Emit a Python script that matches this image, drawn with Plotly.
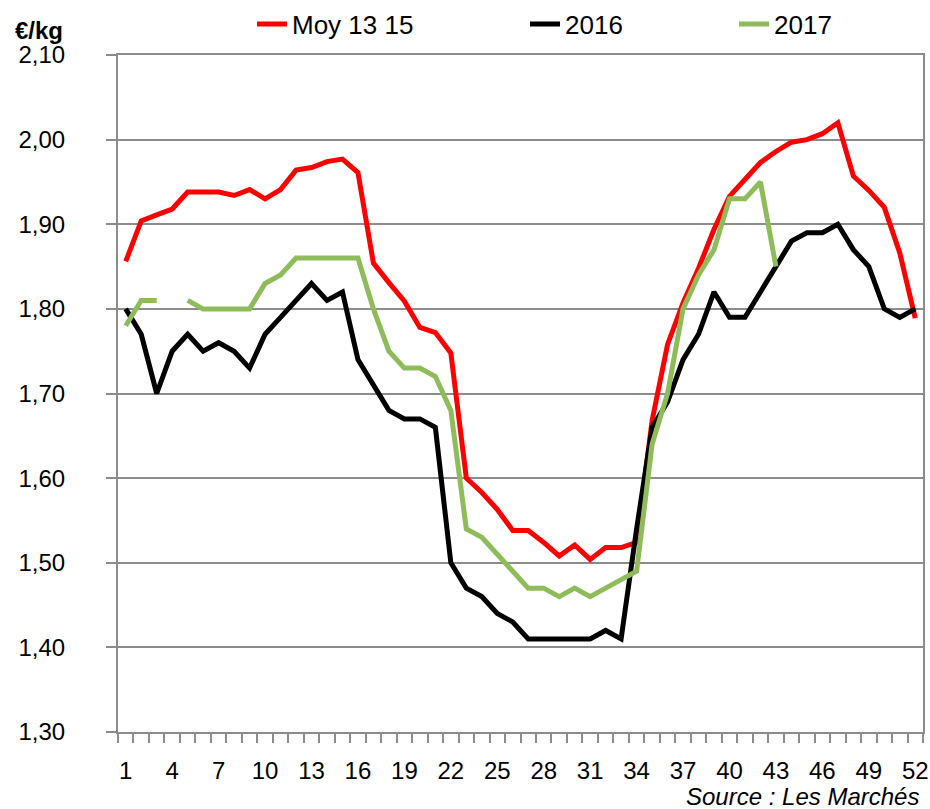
import plotly.graph_objects as go

weeks = list(range(1, 53))
tick_weeks = list(range(1, 53, 3))

moy_13_15 = [1.856, 1.904, 1.911, 1.918, 1.938, 1.938, 1.938, 1.934, 1.941, 1.930,
             1.941, 1.964, 1.967, 1.974, 1.977, 1.961, 1.854, 1.831, 1.809, 1.778,
             1.772, 1.748, 1.600, 1.583, 1.563, 1.538, 1.538, 1.524, 1.508, 1.521,
             1.504, 1.518, 1.518, 1.524, 1.668, 1.758, 1.807, 1.848, 1.894, 1.933,
             1.953, 1.973, 1.986, 1.997, 2.000, 2.007, 2.020, 1.957, 1.940, 1.920,
             1.866, 1.789]

y2016 = [1.80, 1.77, 1.70, 1.75, 1.77, 1.75, 1.76, 1.75, 1.73, 1.77,
         1.79, 1.81, 1.83, 1.81, 1.82, 1.74, 1.71, 1.68, 1.67, 1.67,
         1.66, 1.50, 1.47, 1.46, 1.44, 1.43, 1.41, 1.41, 1.41, 1.41,
         1.41, 1.42, 1.41, 1.54, 1.66, 1.69, 1.74, 1.77, 1.82, 1.79,
         1.79, 1.82, 1.85, 1.88, 1.89, 1.89, 1.90, 1.87, 1.85, 1.80,
         1.79, 1.80]

y2017 = [1.78, 1.81, 1.81, None, 1.81, 1.80, 1.80, 1.80, 1.80, 1.83,
         1.84, 1.86, 1.86, 1.86, 1.86, 1.86, 1.80, 1.75, 1.73, 1.73,
         1.72, 1.68, 1.54, 1.53, 1.51, 1.49, 1.47, 1.47, 1.46, 1.47,
         1.46, 1.47, 1.48, 1.49, 1.64, 1.70, 1.80, 1.84, 1.87, 1.93,
         1.93, 1.95, 1.85, None, None, None, None, None, None, None,
         None, None]

FONT = "Liberation Sans, Arial, sans-serif"
GRID = "#8c8c8c"

fig = go.Figure()
fig.add_trace(go.Scatter(x=weeks, y=moy_13_15, mode="lines", name="Moy 13 15",
                         line=dict(color="#ff0000", width=5), legend="legend"))
fig.add_trace(go.Scatter(x=weeks, y=y2016, mode="lines", name="2016",
                         line=dict(color="#000000", width=5), legend="legend2"))
fig.add_trace(go.Scatter(x=weeks, y=y2017, mode="lines", name="2017",
                         line=dict(color="#8fbc5a", width=5), connectgaps=False,
                         legend="legend3"))

W, H = 930, 809
L, T = 118, 55
R = W - 923
B = H - 732
pw = W - L - R
ph = H - T - B

def px_x(page_x):
    return (page_x - L) / pw

def px_y(page_y):
    return (H - B - page_y) / ph

leg_common = dict(orientation="h", xanchor="left", yanchor="middle",
                  font=dict(family=FONT, size=26, color="#000000"),
                  bgcolor="rgba(0,0,0,0)", borderwidth=0)

fig.update_layout(
    width=W, height=H,
    showlegend=True,
    margin=dict(l=L, r=R, t=T, b=B, autoexpand=False),
    paper_bgcolor="white", plot_bgcolor="white",
    separators=", ",
    font=dict(family=FONT, size=24, color="#000000"),
    legend=dict(x=px_x(252), y=px_y(24), **leg_common),
    legend2=dict(x=px_x(525), y=px_y(24), **leg_common),
    legend3=dict(x=px_x(734), y=px_y(24), **leg_common),
    xaxis=dict(range=[0.5, 52.5], tickmode="array", tickvals=tick_weeks,
               ticktext=[str(v) for v in tick_weeks], ticks="",
               showgrid=False, zeroline=False,
               showline=True, linecolor=GRID, linewidth=2, mirror=True,
               ticklabelstandoff=16, ticklabeloverflow="allow",
               tickfont=dict(family=FONT, size=24),
               minor=dict(tickmode="array", tickvals=[w - 0.5 for w in weeks] + [52.5],
                          ticks="outside", ticklen=9, tickwidth=2, tickcolor=GRID,
                          showgrid=False)),
    yaxis=dict(range=[1.3, 2.1], tick0=1.3, dtick=0.1, tickformat=".2f",
               ticks="outside", ticklen=10, tickwidth=2, tickcolor=GRID,
               showgrid=True, gridcolor=GRID, gridwidth=2, zeroline=False,
               showline=True, linecolor=GRID, linewidth=2, mirror=True,
               ticklabelstandoff=36,
               tickfont=dict(family=FONT, size=24)),
    annotations=[
        dict(text="<b>€/kg</b>", xref="paper", yref="paper", x=px_x(13), y=px_y(30),
             xanchor="left", yanchor="middle", showarrow=False,
             font=dict(family=FONT, size=24)),
        dict(text="<i>Source : Les Marchés</i>", xref="paper", yref="paper",
             x=px_x(921), y=px_y(796), xanchor="right", yanchor="middle",
             showarrow=False, font=dict(family=FONT, size=24)),
    ],
)

fig.write_html("out.html", config={"displayModeBar": False},
               post_script="document.body.style.margin='0';document.body.style.overflow='hidden';")
